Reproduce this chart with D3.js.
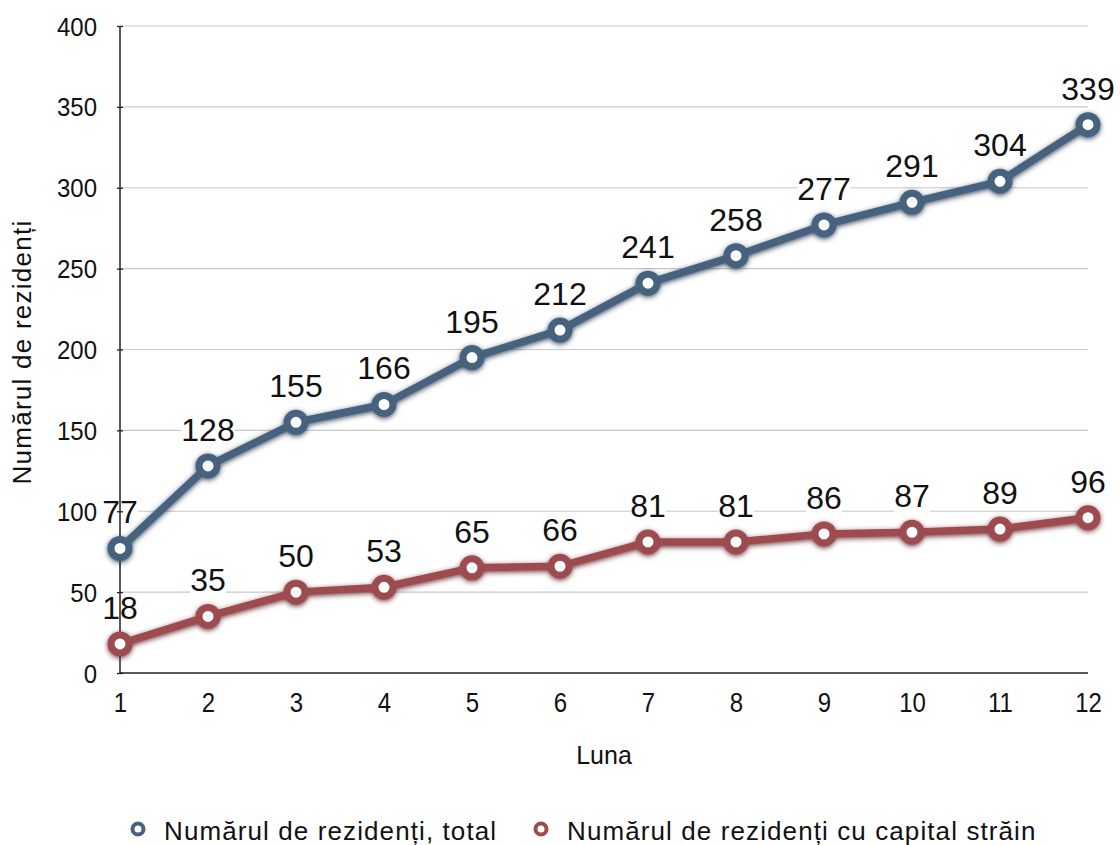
<!DOCTYPE html>
<html><head><meta charset="utf-8">
<script src="https://cdn.jsdelivr.net/npm/d3@7"></script>
<style>
body{margin:0;background:#fff;}
text{font-family:"Liberation Sans",Arial,Helvetica,sans-serif;fill:#111;}
</style></head>
<body><svg id="c" width="1120" height="845"></svg>
<script>
const months = [1,2,3,4,5,6,7,8,9,10,11,12];
const totalValues = [77,128,155,166,195,212,241,258,277,291,304,339];
const foreignValues = [18,35,50,53,65,66,81,81,86,87,89,96];
const yTicks = [0,50,100,150,200,250,300,350,400];
const seriesNames = ["Numărul de rezidenți, total","Numărul de rezidenți cu capital străin"];
const seriesColors = ["#46627f","#9e4b50"];
const shadowColors = ["#1e3347","#5a2326"];

const svg = d3.select("#c");
const x = d3.scaleLinear().domain([1,12]).range([120,1088]);
const y = d3.scaleLinear().domain([0,400]).range([673,26]);

const defs = svg.append("defs");
seriesColors.forEach((c,i)=>{
  const f = defs.append("filter").attr("id","sh"+i).attr("x","-20%").attr("y","-20%").attr("width","140%").attr("height","140%");
  f.append("feDropShadow").attr("dx",0).attr("dy",1.5).attr("stdDeviation",2.5).attr("flood-color",shadowColors[i]).attr("flood-opacity",0.85);
});

// vertical stretch helper for tick texts (baseline kept)
function stretch(sel, sy, baselineShift){
  sel.each(function(){
    const t = d3.select(this);
    const tx = +t.attr("x")||0, ty = (+t.attr("y")||0) + baselineShift;
    t.attr("x",0).attr("y",0).attr("dy",null)
     .attr("transform","translate("+tx+","+ty+") scale(1,"+sy+")");
  });
}

// gridlines
svg.append("g").selectAll("line").data(yTicks.filter(d=>d>0)).join("line")
  .attr("x1",120).attr("x2",1088).attr("y1",d=>y(d)).attr("y2",d=>y(d))
  .attr("stroke","#c8c8c8").attr("stroke-width",1.2);

// data labels with white background
const series = [totalValues, foreignValues];
series.forEach((vals,si)=>{
  const lg = svg.append("g");
  vals.forEach((v,i)=>{
    const t = lg.append("text").attr("x",x(months[i])).attr("y",y(v)-25)
      .attr("text-anchor","middle").attr("font-size",32).text(v);
    const b = t.node().getBBox();
    lg.insert("rect","text").attr("x",b.x).attr("y",b.y+4).attr("width",b.width).attr("height",b.height-6).attr("fill","#fff");
  });
});

// y axis
const ya = svg.append("g").attr("transform","translate(120,0)")
  .call(d3.axisLeft(y).tickValues(yTicks).tickSize(3).tickPadding(20));
ya.select(".domain").attr("stroke","#222").attr("stroke-width",1.5).attr("d","M0,"+y(400)+"V"+y(0));
ya.selectAll(".tick line").attr("x1",-3).attr("x2",3).attr("stroke","#222").attr("stroke-width",1.3);
ya.selectAll(".tick text").attr("font-size",24).attr("fill","#111").style("font-family","Liberation Sans, Arial, sans-serif");
stretch(ya.selectAll(".tick text"), 1.06, 9);

// x axis
const xa = svg.append("g").attr("transform","translate(0,673)")
  .call(d3.axisBottom(x).tickValues(months).tickSize(0).tickPadding(20).tickFormat(d3.format("d")));
xa.select(".domain").attr("stroke","#222").attr("stroke-width",1.5).attr("d","M120,0H1088");
xa.selectAll(".tick text").attr("font-size",24).attr("fill","#111").style("font-family","Liberation Sans, Arial, sans-serif");
stretch(xa.selectAll(".tick text"), 1.16, 19);

// axis titles
svg.append("text").attr("x",604).attr("y",764).attr("text-anchor","middle").attr("font-size",25).text("Luna");
svg.append("text").attr("transform","translate(31,352) rotate(-90)").attr("text-anchor","middle")
  .attr("font-size",26).attr("letter-spacing",1.25).text("Numărul de rezidenți");

const line = d3.line().x((d,i)=>x(months[i])).y(d=>y(d));
series.forEach((vals,si)=>{
  const sg = svg.append("g").attr("filter","url(#sh"+si+")");
  sg.append("path").datum(vals).attr("d",line).attr("fill","none")
    .attr("stroke",seriesColors[si]).attr("stroke-width",7.5).attr("stroke-linejoin","round");
  sg.selectAll("circle").data(vals).join("circle")
    .attr("cx",(d,i)=>x(months[i])).attr("cy",d=>y(d)).attr("r",9)
    .attr("fill","#fff").attr("stroke",seriesColors[si]).attr("stroke-width",7);
});

// legend
const legX = [138,541];
const leg = svg.append("g");
seriesNames.forEach((n,i)=>{
  leg.append("circle").attr("cx",legX[i]).attr("cy",829).attr("r",5.5)
    .attr("fill","#fff").attr("stroke",seriesColors[i]).attr("stroke-width",4);
  leg.append("text").attr("x",legX[i]+26).attr("y",840).attr("font-size",26).attr("letter-spacing",1.1).text(n);
});
</script></body></html>
